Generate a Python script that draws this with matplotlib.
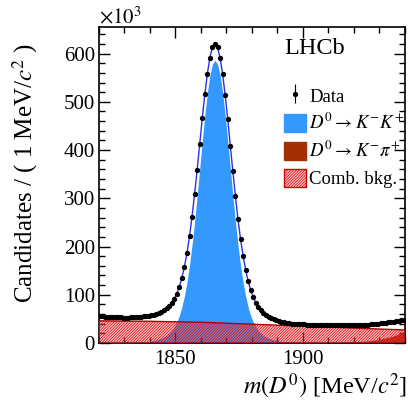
import numpy as np
import matplotlib.pyplot as plt
from matplotlib.patches import Patch
from matplotlib.ticker import MultipleLocator

plt.rcParams["font.family"] = ["Liberation Serif", "DejaVu Serif"]
plt.rcParams["mathtext.fontset"] = "stix"
plt.rcParams["hatch.linewidth"] = 0.5

# -- 1 MeV/c^2 bins, bin centres 1820.5 ... 1939.5
mass = np.arange(1820.5, 1940.0, 1.0)

# -- candidates per bin (x10^3)
counts = np.array([
    55, 55, 54, 54, 54, 53, 53, 53, 53, 52,
    52.6, 52.8, 53.0, 53.3, 53.6, 54.1, 54.6, 55.3, 55.2, 56.3,
    57.5, 58.9, 60.7, 63.1, 64.8, 68.0, 72.1, 77.2, 83.8, 92.2,
    102.3, 116.5, 134.9, 158.2, 186.1, 221.1, 262.1, 308.8, 358.8, 412.3,
    465.6, 515.5, 558.0, 591.7, 612.9, 620.3, 612.9, 590.7, 557.0, 513.5,
    463.6, 409.3, 355.8, 304.8, 257.1, 216.1, 181.1, 152.2, 127.9, 109.5,
    95.3, 83.2, 74.8, 68.2, 63.1, 58.0, 54.8, 52.1, 49.7, 46.9,
    45.5, 44.3, 43.2, 42.3, 40.6, 40.1, 39.6, 39.3, 39.0, 38.8,
    38.6, 38, 37, 37, 37, 37, 37, 37, 37, 37,
    37, 37, 37, 37, 37, 37, 37, 37, 37, 37,
    37, 37, 38, 38, 38, 38, 39, 39, 40, 40,
    41, 42, 42, 43, 44, 44, 45, 46, 47, 48,
])

# -- D0 -> K- K+ signal component (filled blue)
signal_kk = np.array([
    0, 0, 0, 0, 0, 0, 0, 0, 0, 0,
    0.2, 0.3, 0.4, 0.6, 0.9, 1.2, 1.6, 2.0, 2.6, 3.3,
    4.1, 5.2, 6.4, 8.2, 10.3, 12.8, 16.1, 20.3, 26.0, 33.5,
    43.6, 56.9, 74.5, 97.2, 126.0, 161.3, 203.4, 251.8, 305.3, 361.7,
    418.4, 472.0, 518.6, 555.0, 578.1, 586.0, 578.1, 555.0, 518.6, 472.0,
    418.4, 361.7, 305.3, 251.8, 203.4, 161.3, 126.0, 97.2, 74.5, 56.9,
    43.6, 33.5, 26.0, 20.3, 16.1, 12.8, 10.3, 8.2, 6.4, 5.2,
    4.1, 3.3, 2.6, 2.0, 1.6, 1.2, 0.9, 0.6, 0.4, 0.3,
    0.2, 0, 0, 0, 0, 0, 0, 0, 0, 0,
    0, 0, 0, 0, 0, 0, 0, 0, 0, 0,
    0, 0, 0, 0, 0, 0, 0, 0, 0, 0,
    0, 0, 0, 0, 0, 0, 0, 0, 0, 0,
])

# -- combinatorial background
comb_mass = [1820, 1830, 1840, 1850, 1860, 1870, 1880, 1890, 1900, 1910, 1920, 1930, 1940]
comb_bkg = [46, 45.5, 45, 44, 43, 41, 39, 37, 35, 33, 31, 29, 27]

# -- misidentified D0 -> K- pi+
kpi_mass = [1900, 1905, 1910, 1915, 1920, 1925, 1930, 1935, 1940]
kpi_bkg = [0, 0.3, 0.6, 1.2, 2.2, 4.0, 7.5, 14, 23]

fig = plt.figure(figsize=(4.08, 4.01), dpi=100)
ax = fig.add_axes([0.2426, 0.1446, 0.75, 0.788])

ax.fill_between(mass, 0, signal_kk, color="#3399ff", lw=0, zorder=1)
ax.fill_between(kpi_mass, 0, kpi_bkg, color="#b02000", lw=0, zorder=2)
comb_style = dict(facecolor=(1.0, 0.4, 0.45, 0.4), edgecolor="#d00000", hatch="/" * 12)
ax.fill_between(comb_mass, 0, comb_bkg, lw=0, zorder=3, **comb_style)
ax.plot(comb_mass, comb_bkg, color="#b00000", lw=1.0, zorder=3)

# total fit follows the data at this resolution
ax.plot(mass, counts, color="#3030e0", lw=1.0, zorder=4)
err = np.sqrt(counts * 1e3) / 1e3
eb = ax.errorbar(mass, counts, yerr=err, fmt="o", color="black", ms=2.8,
                 elinewidth=0.8, capsize=0, zorder=5)

ax.set_xlim(1820, 1940)
ax.set_ylim(0, 655)
ax.xaxis.set_major_locator(MultipleLocator(50))
ax.xaxis.set_minor_locator(MultipleLocator(10))
ax.yaxis.set_major_locator(MultipleLocator(100))
ax.yaxis.set_minor_locator(MultipleLocator(20))
ax.tick_params(which="both", direction="in", top=True, right=True, labelsize=15, width=1)
ax.tick_params(which="major", length=8)
ax.tick_params(which="minor", length=4)
ax.tick_params(axis="x", pad=5)
ax.tick_params(axis="y", pad=3)
for s in ax.spines.values():
    s.set_linewidth(1.2)

fig.text(25 / 408, 1 - 173 / 401, "Candidates / ( 1 MeV/$c^2$ )", rotation=90,
         ha="center", va="center", fontsize=18)
fig.text(407 / 408, 1 - 386 / 401, "$m(D^0)$ [MeV/$c^2$]", ha="right", va="center", fontsize=17.5)
fig.text(99 / 408, 1 - 23 / 401, r"$\times10^{3}$", ha="left", va="baseline", fontsize=15)
ax.text(0.6046, 0.9335, "LHCb", transform=ax.transAxes, ha="left", va="center", fontsize=17.5)

handles = [eb, Patch(color="#3399ff"), Patch(color="#a33000"), Patch(lw=1, **comb_style)]
labels = ["Data", r"$D^0 \to K^{-}K^{+}$", r"$D^0 \to K^{-}\pi^{+}$", "Comb. bkg."]
ax.legend(handles, labels, loc="upper left", bbox_to_anchor=(0.6046, 0.813), frameon=False,
          fontsize=13.5, borderpad=0, borderaxespad=0, handlelength=1.15, handleheight=1.12,
          handletextpad=0.2, labelspacing=0.4)

fig.savefig("out.png", dpi=100)
